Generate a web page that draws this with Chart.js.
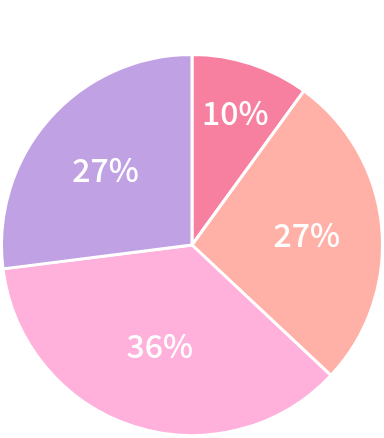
<!DOCTYPE html>
<html>
<head>
<meta charset="utf-8">
<script src="https://cdn.jsdelivr.net/npm/chart.js@4/dist/chart.umd.min.js"></script>
<style>
html,body{margin:0;padding:0;background:#fff;}
#wrap{width:384px;height:438px;position:relative;}
</style>
</head>
<body>
<div id="wrap"><canvas id="c"></canvas></div>
<script>
const categories = ["A", "B", "C", "D"];
const values = [10, 27, 36, 27];
const labels = ["10%", "27%", "36%", "27%"];
const colors = ["#F780A1", "#FFB1A8", "#FFB0DB", "#C0A2E4"];

const labelPlugin = {
  id: 'sliceLabels',
  afterDatasetsDraw(chart) {
    const ctx = chart.ctx;
    const meta = chart.getDatasetMeta(0);
    ctx.save();
    ctx.fillStyle = '#ffffff';
    ctx.font = '500 32px "Noto Sans CJK JP", "Noto Sans", sans-serif';
    ctx.textAlign = 'center';
    ctx.textBaseline = 'middle';
    meta.data.forEach((arc, i) => {
      const p = arc.getProps(['x','y','startAngle','endAngle','outerRadius'], true);
      const theta = p.endAngle - p.startAngle;
      const mid = (p.startAngle + p.endAngle) / 2;
      let d = 4 * p.outerRadius * Math.sin(theta / 2) / (3 * theta) + 3;
      if (theta < 0.8) d = 0.735 * p.outerRadius;
      const x = p.x + Math.cos(mid) * d;
      const y = p.y + Math.sin(mid) * d;
      ctx.fillText(labels[i], x, y + 1);
    });
    ctx.restore();
  }
};

new Chart(document.getElementById('c'), {
  type: 'pie',
  data: {
    labels: categories,
    datasets: [{
      data: values,
      backgroundColor: colors,
      borderColor: '#ffffff',
      borderWidth: 3
    }]
  },
  options: {
    responsive: true,
    maintainAspectRatio: false,
    animation: false,
    layout: { padding: { top: 53, bottom: 1, left: 0, right: 0 } },
    plugins: {
      legend: { display: false },
      tooltip: { enabled: false },
      title: { display: false }
    }
  },
  plugins: [labelPlugin]
});
</script>
</body>
</html>
